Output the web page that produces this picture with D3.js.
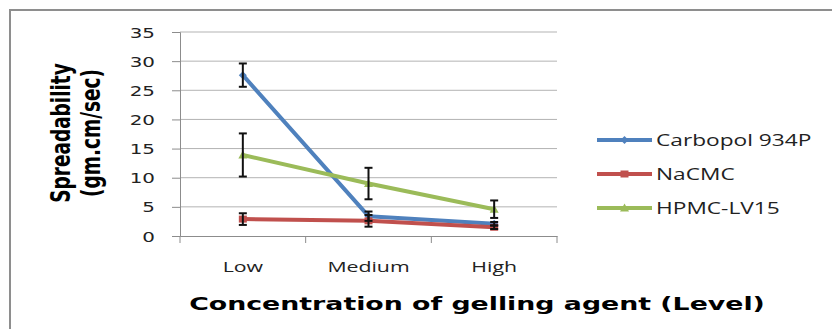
<!DOCTYPE html>
<html>
<head>
<meta charset="utf-8">
<script src="https://cdn.jsdelivr.net/npm/d3@7/dist/d3.min.js"></script>
<style>
  html, body { margin: 0; padding: 0; background: #fff; }
  svg { display: block; }
</style>
</head>
<body>
<svg id="chart" width="832" height="329"></svg>
<script>
// Spreadability by concentration level of each gelling agent
const levels = ["Low", "Medium", "High"];
const seriesNames = ["Carbopol 934P", "NaCMC", "HPMC-LV15"];
const carbopolValues = [27.6, 3.4, 2.1];
const carbopolErrors = [2.0, 0.8, 0.3];
const nacmcValues = [2.9, 2.6, 1.5];
const nacmcErrors = [1.0, 1.0, 0.3];
const hpmcValues = [13.9, 9.0, 4.6];
const hpmcErrors = [3.7, 2.7, 1.5];
const yTicks = [0, 5, 10, 15, 20, 25, 30, 35];
const seriesColors = ["#4f81bd", "#c0504d", "#9bbb59"];
const seriesMarkers = ["diamond", "square", "triangle"];

const series = [
  { name: seriesNames[0], values: carbopolValues, errors: carbopolErrors, color: seriesColors[0], marker: seriesMarkers[0] },
  { name: seriesNames[1], values: nacmcValues, errors: nacmcErrors, color: seriesColors[1], marker: seriesMarkers[1] },
  { name: seriesNames[2], values: hpmcValues, errors: hpmcErrors, color: seriesColors[2], marker: seriesMarkers[2] }
];

const SX = 1.42; // horizontal stretch applied to all lettering
const svg = d3.select("#chart");

// outer frame
svg.append("rect")
  .attr("x", 10).attr("y", 10).attr("width", 840).attr("height", 340)
  .attr("fill", "none").attr("stroke", "#8e8e8e").attr("stroke-width", 2);

const plot = { left: 180, right: 557, top: 32, bottom: 236 };

const x = d3.scaleBand().domain(levels).range([plot.left, plot.right]).padding(0);
const y = d3.scaleLinear().domain([0, 35]).range([plot.bottom, plot.top]);

// gridlines
svg.append("g").selectAll("line").data(yTicks.filter(d => d > 0)).join("line")
  .attr("x1", plot.left).attr("x2", plot.right)
  .attr("y1", d => y(d)).attr("y2", d => y(d))
  .attr("stroke", "#b3b3b3").attr("stroke-width", 1);

// y axis
const yAxis = svg.append("g").attr("transform", `translate(${plot.left},0)`)
  .call(d3.axisLeft(y).tickValues(yTicks).tickSize(8).tickPadding(0).tickFormat(d3.format("d")));
yAxis.select(".domain").attr("stroke", "#8c8c8c");
yAxis.selectAll(".tick line").attr("stroke", "#8c8c8c");
yAxis.selectAll(".tick text").remove();
yAxis.selectAll(".tick").append("text")
  .attr("transform", `translate(-25,0) scale(${SX},1)`)
  .attr("text-anchor", "end").attr("dy", "0.36em")
  .attr("fill", "#222")
  .style("font-family", "DejaVu Sans, Verdana, sans-serif")
  .style("font-size", "14px")
  .text(d => d);

// x axis
const xAxis = svg.append("g").attr("transform", `translate(0,${plot.bottom})`)
  .call(d3.axisBottom(x).tickSize(0).tickFormat(""));
xAxis.select(".domain").attr("stroke", "#8c8c8c");
xAxis.selectAll(".tick").remove();
const bounds = levels.map(l => x(l)).concat([plot.right]);
xAxis.selectAll("line.cat").data(bounds).join("line")
  .attr("class", "cat")
  .attr("x1", d => d).attr("x2", d => d).attr("y1", 0).attr("y2", 7)
  .attr("stroke", "#8c8c8c");
xAxis.selectAll("text.cat").data(levels).join("text")
  .attr("class", "cat")
  .attr("transform", d => `translate(${x(d) + x.bandwidth() / 2},36) scale(${SX},1)`)
  .attr("text-anchor", "middle")
  .attr("fill", "#222")
  .style("font-family", "Open Sans, sans-serif")
  .style("font-size", "15px")
  .text(d => d);

// axis titles
svg.append("text")
  .attr("transform", `translate(477,310) scale(1.53,1)`)
  .attr("text-anchor", "middle")
  .style("font-family", "DejaVu Sans, Verdana, sans-serif")
  .style("font-weight", "bold").style("font-size", "17.5px")
  .text("Concentration of gelling agent (Level)");

const yTitle = svg.append("g").attr("transform", `translate(0,133) scale(${SX},1)`);
yTitle.append("text")
  .attr("transform", "translate(49,0) rotate(-90)")
  .attr("text-anchor", "middle")
  .style("font-family", "DejaVu Sans, Verdana, sans-serif")
  .style("font-weight", "bold").style("font-size", "18.5px")
  .text("Spreadability");
yTitle.append("text")
  .attr("transform", "translate(70.5,0) rotate(-90)")
  .attr("text-anchor", "middle")
  .style("font-family", "DejaVu Sans, Verdana, sans-serif")
  .style("font-weight", "bold").style("font-size", "18.5px")
  .text("(gm.cm/sec)");

// markers
function drawMarker(sel, type, color) {
  if (type === "square") {
    sel.append("rect").attr("x", -4).attr("y", -3.5).attr("width", 8).attr("height", 7).attr("fill", color);
  } else if (type === "diamond") {
    sel.append("path").attr("d", "M0,-4L4,0L0,4L-4,0Z").attr("fill", color);
  } else {
    sel.append("path").attr("d", "M0,-4.5L4.5,3.5L-4.5,3.5Z").attr("fill", color);
  }
}

const cx = d => x(d) + x.bandwidth() / 2;
const line = d3.line().x(d => cx(d.level)).y(d => y(d.value));

series.forEach(s => {
  const pts = levels.map((l, i) => ({ level: l, value: s.values[i], err: s.errors[i] }));
  const g = svg.append("g");
  g.append("path").datum(pts)
    .attr("d", line).attr("fill", "none")
    .attr("stroke", s.color).attr("stroke-width", 4).attr("stroke-linejoin", "round");
  g.selectAll("g.m").data(pts).join("g")
    .attr("class", "m")
    .attr("transform", d => `translate(${cx(d.level)},${y(d.value)})`)
    .each(function () { drawMarker(d3.select(this), s.marker, s.color); });
  s.pts = pts;
});

// error bars on top
series.forEach(s => {
  const eb = svg.append("g").attr("stroke", "#111").attr("stroke-width", 2);
  s.pts.forEach(d => {
    const xc = cx(d.level);
    const y1 = y(d.value + d.err), y0 = y(d.value - d.err);
    eb.append("line").attr("x1", xc).attr("x2", xc).attr("y1", y1).attr("y2", y0);
    eb.append("line").attr("x1", xc - 4).attr("x2", xc + 4).attr("y1", y1).attr("y2", y1);
    eb.append("line").attr("x1", xc - 4).attr("x2", xc + 4).attr("y1", y0).attr("y2", y0);
  });
});

// legend
const legend = svg.append("g").attr("transform", "translate(597,140)");
series.forEach((s, i) => {
  const g = legend.append("g").attr("transform", `translate(0,${i * 34})`);
  g.append("line").attr("x1", 0).attr("x2", 55).attr("y1", 0).attr("y2", 0)
    .attr("stroke", s.color).attr("stroke-width", 4);
  const m = g.append("g").attr("transform", "translate(27.5,0)");
  drawMarker(m, s.marker, s.color);
  g.append("text")
    .attr("transform", `translate(59,0) scale(${SX},1)`)
    .attr("dy", "0.36em")
    .attr("fill", "#222")
    .style("font-family", "Open Sans, sans-serif")
    .style("font-size", "16px")
    .text(s.name);
});
</script>
</body>
</html>
